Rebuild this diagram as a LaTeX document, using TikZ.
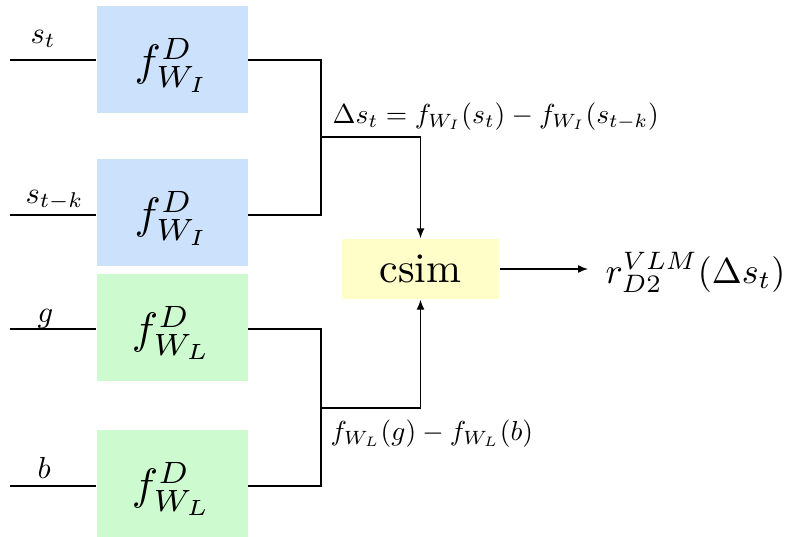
\RequirePackage{fix-cm}
\documentclass[tikz,border=0pt]{standalone}
\usepackage{amsmath}
\usepackage{graphicx}
\usetikzlibrary{arrows.meta}
\definecolor{bblue}{RGB}{204,226,252}
\definecolor{bgreen}{RGB}{206,250,208}
\definecolor{byellow}{RGB}{255,253,200}
\newcommand{\boxmath}[1]{\scalebox{4.4}{$#1$}}
\newcommand{\labmath}[1]{\scalebox{2.75}{$#1$}}
\newcommand{\inmath}[1]{\scalebox{3.05}{$#1$}}
\begin{document}
\begin{tikzpicture}[x=1pt,y=-1pt,line width=1.4pt,
  fbox/.style={minimum width=151pt,minimum height=107pt,inner sep=0pt},
  ftext/.style={inner sep=0pt,yshift=-6pt},
  lab/.style={inner sep=0pt,anchor=base west},
  arr/.style={-{Latex[length=10pt,width=8pt]}}]
\useasboundingbox (0,0) rectangle (789,536);
\node[fbox,fill=bblue] (b1) at (172,59.5) {};
\node[fbox,fill=bblue] (b2) at (172,212.5) {};
\node[fbox,fill=bgreen] (g1) at (172,327) {};
\node[fbox,fill=bgreen] (g2) at (172,483) {};
\node[ftext] (tb1) at (b1.center) {\boxmath{f^{D}_{W_I}}};
\node[ftext] (tb2) at (b2.center) {\boxmath{f^{D}_{W_I}}};
\node[ftext] (tg1) at (g1.center) {\boxmath{f^{D}_{W_L}}};
\node[ftext] (tg2) at (g2.center) {\boxmath{f^{D}_{W_L}}};
\node[minimum width=157pt,minimum height=60pt,inner sep=0pt,fill=byellow] (cs) at (420.5,269) {\scalebox{4.2}{csim}};
\coordinate (i1) at (10,60);
\coordinate (i2) at (10,215);
\coordinate (i3) at (10,329);
\coordinate (i4) at (10,486);
\coordinate (jt) at (321,137);
\coordinate (jb) at (321,408);
\coordinate (out) at (588,269);
\draw (i1) -- (i1 -| b1.west);
\draw (i2) -- (i2 -| b2.west);
\draw (i3) -- (i3 -| g1.west);
\draw (i4) -- (i4 -| g2.west);
\draw (i1 -| b1.east) -| (jt) |- (i2 -| b2.east);
\draw (i3 -| g1.east) -| (jb) |- (i4 -| g2.east);
\draw[arr] (jt) -| (cs.north);
\draw[arr] (jb) -| (cs.south);
\draw[arr] (cs.east) -- (out);
\node[lab] (ls1) at (30,43) {\inmath{s_t}};
\node[lab] (ls2) at (25,203) {\inmath{s_{t-k}}};
\node[lab] (lg) at (37,322) {\inmath{g}};
\node[lab] (lb) at (37,478) {\inmath{b}};
\node[lab] (ld) at (332,123) {\labmath{\Delta s_t = f_{W_I}(s_t) - f_{W_I}(s_{t-k})}};
\node[lab] (lf) at (330,440) {\labmath{f_{W_L}(g) - f_{W_L}(b)}};
\node[lab] (lr) at (605,283) {\scalebox{3.6}{$r^{VLM}_{D2}(\Delta s_t)$}};
\end{tikzpicture}
\end{document}
